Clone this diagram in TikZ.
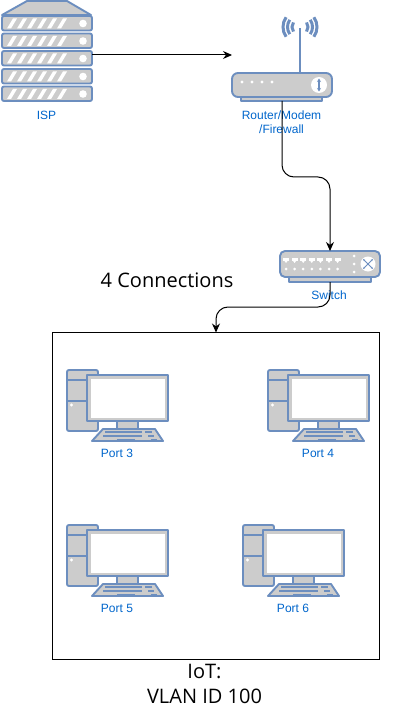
\documentclass[tikz,border=0pt]{standalone}
\usepackage{fontspec}
\setmainfont{Liberation Sans}
\newfontfamily\bigfont{Open Sans}
\usetikzlibrary{arrows.meta}
\definecolor{icoB}{HTML}{6C8EBF}
\definecolor{icoF}{HTML}{CCCCCC}
\definecolor{lbl}{HTML}{0066CC}
\tikzset{
  x=1pt,y=-1pt,
  ico/.style={draw=icoB,fill=icoF,line width=1.9pt,line join=round},
  wave/.style={draw=icoB,line width=3pt},
  lab/.style={text=lbl,font=\fontsize{12}{14}\selectfont,align=center,inner sep=0pt},
  big/.style={text=black,font=\bigfont\fontsize{20}{25}\selectfont,align=center,inner sep=0pt},
  conn/.style={draw=black,line width=1pt,rounded corners=12pt,-{Stealth[length=9pt,width=8pt]}},
  anchorbox/.style={inner sep=0pt,outer sep=0pt,minimum width=#1},
  pics/pc/.style={code={
    \draw[ico,rounded corners=2pt] (0,0) rectangle (31,61);
    \draw[ico] (0,10) -- (31,10) (0,31) -- (31,31);
    \fill[white] (4.5,35) circle (1.6);
    \draw[ico] (50,51) rectangle (71,59);
    \draw[ico] (20,5) rectangle (101,51);
    \fill[white] (23.5,8.5) rectangle (97.5,47.5);
    \draw[ico] (25,71) -- (36,59) -- (88,59) -- (96,71) -- cycle;
    \draw[icoB,line width=1.5pt] (38,62) -- (75,62) (78,62) -- (85,62)
      (36,66) -- (75,66) (81,66) -- (87,66)
      (50,69.5) -- (68,69.5) (84,69.5) -- (90,69.5);
  }}
}
\begin{document}
\begin{tikzpicture}
\useasboundingbox (0,0) rectangle (415,722);
\fill[white] (0,0) rectangle (415,722);
% ISP server
\draw[ico] (27,1) -- (67,1) -- (91,15) -- (2,15) -- cycle;
\foreach \y in {16,33.5,51,69,86.5}{
  \draw[ico,rounded corners=2pt] (2,\y) rectangle (92,\y+14.5);
  \foreach \k in {0,...,5}{
    \fill[white] (7+\k*10,\y+12.5) -- (11+\k*10,\y+12.5) -- (17+\k*10,\y+2.5) -- (13+\k*10,\y+2.5) -- cycle;
  }
  \fill[white] (83,\y+7.5) circle (3.8);
}
\node[anchorbox=90pt,minimum height=100pt,anchor=north west] (isp) at (2,1) {};
\node[lab] (isplab) at (46.5,115) {ISP};
% Router
\draw[icoB,line width=2.4pt] (300,73) -- (300,28);
\foreach \r in {8,12.5,17}{
  \draw[wave] ([shift={(300,27)}]145:\r) arc[start angle=145,end angle=215,radius=\r];
  \draw[wave] ([shift={(300,27)}]-35:\r) arc[start angle=-35,end angle=35,radius=\r];
}
\draw[ico] (241,96) rectangle (322,101);
\draw[ico,rounded corners=6pt] (232,73) rectangle (332,97);
\foreach \x in {242,252,262,272} \fill[white] (\x,82) circle (1.7);
\fill[white] (319,85) circle (8);
\draw[icoB,line width=1.2pt,{Stealth[length=3.5pt,width=4pt]}-{Stealth[length=3.5pt,width=4pt]}] (319,78.5) -- (319,91.5);
\node[anchorbox=100pt,minimum height=90pt,anchor=north west] (router) at (232,11) {};
\node[lab] (routerlab) at (281.5,122) {Router/Modem\\/Firewall};
% Switch
\draw[ico] (289,276) rectangle (371,282);
\draw[ico,rounded corners=5pt] (280,251) rectangle (380,277);
\foreach \k in {0,...,6}{
  \fill[white] (283+\k*8.6,258) rectangle (289+\k*8.6,261);
  \fill[white] (284.5+\k*8.6,261) -- (287.5+\k*8.6,261) -- (286+\k*8.6,263) -- cycle;
  \fill[white] (286+\k*8.6,269) circle (1.5);
}
\foreach \y in {256,264,272} \fill[white] (354,\y) circle (1.5);
\fill[white] (368,264) circle (7.5);
\draw[icoB,line width=1pt,{Stealth[length=2.5pt]}-{Stealth[length=2.5pt]}] (363,259) -- (373,269);
\draw[icoB,line width=1pt,{Stealth[length=2.5pt]}-{Stealth[length=2.5pt]}] (373,259) -- (363,269);
\node[anchorbox=100pt,minimum height=31pt,anchor=north west] (switch) at (280,251) {};
\node[lab] (switchlab) at (329,295) {Switch};
% texts
\node[big] (conns) at (167,280) {4 Connections};
% VLAN box
\node[draw=black,line width=1pt,outer sep=0pt,minimum width=327pt,minimum height=327pt,inner sep=0pt,anchor=north west] (vlan) at (52.5,332.5) {};
\node[big] (iot) at (204.5,684) {IoT:\\VLAN ID 100};
% PCs
\path (67,370) pic {pc};
\node[lab] (p3) at (117,453) {Port 3};
\path (268,370) pic {pc};
\node[lab] (p4) at (318,453) {Port 4};
\path (67,525) pic {pc};
\node[lab] (p5) at (117,608) {Port 5};
\path (243,525) pic {pc};
\node[lab] (p6) at (293,608) {Port 6};
% connectors
\draw[conn] (isp.east |- 0,55) -- (router.west |- 0,55);
\draw[conn] (router.south) -- (router.south |- 0,177) -- (switch.north |- 0,177) -- (switch.north);
\draw[conn] (switch.south) -- (switch.south |- 0,307) -- (vlan.north |- 0,307) -- (vlan.north);
\end{tikzpicture}
\end{document}
